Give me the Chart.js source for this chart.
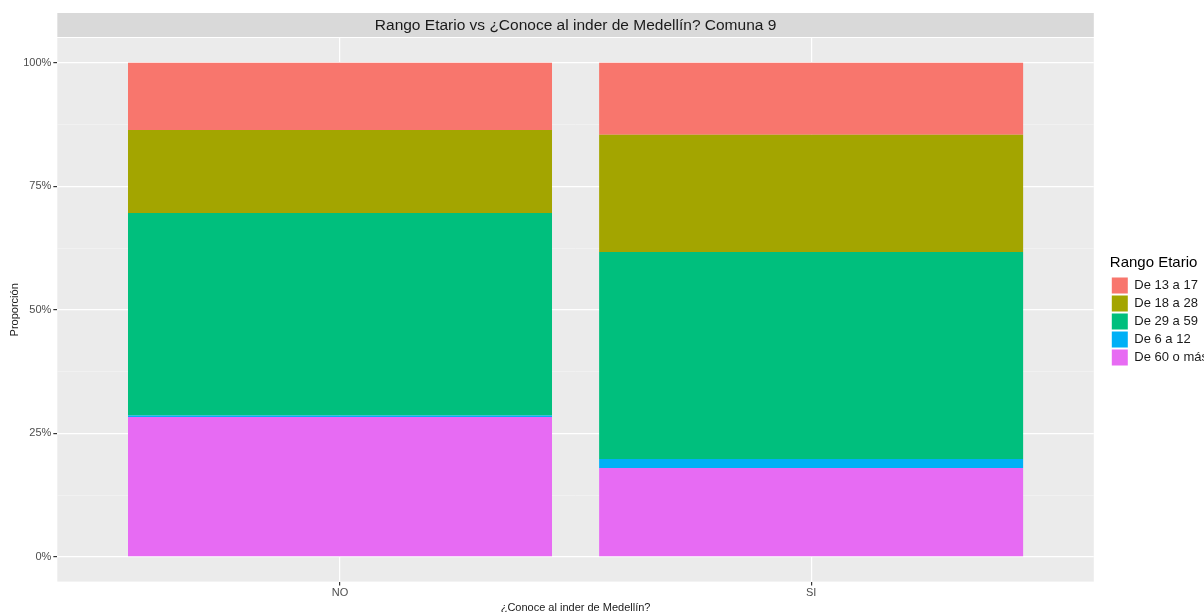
<!DOCTYPE html>
<html>
<head>
<meta charset="utf-8">
<script src="https://cdn.jsdelivr.net/npm/chart.js@4"></script>
<style>
  html, body { margin: 0; padding: 0; background: #fff; overflow: hidden; }
  #wrap { width: 1204px; height: 612px; overflow: hidden; }
</style>
</head>
<body>
<div id="wrap"><canvas id="chart" width="1218" height="615"></canvas></div>
<script>
// categories on the x axis
const categories = ['NO', 'SI'];
// age groups, bottom of the stack first
const groups = ['De 60 o más', 'De 6 a 12', 'De 29 a 59', 'De 18 a 28', 'De 13 a 17'];
const groupColors = ['#E76BF3', '#00B0F6', '#00BF7D', '#A3A500', '#F8766D'];
// proportions (%) per group, [NO, SI]
const de60 = [28.3, 18.0];
const de6 = [0.3, 1.8];
const de29 = [41.0, 41.9];
const de18 = [16.8, 23.7];
const de13 = [13.6, 14.6];
const yTicks = [0, 25, 50, 75, 100];
const yMinor = [12.5, 37.5, 62.5, 87.5];

const series = [de60, de6, de29, de18, de13];

const datasets = groups.map(function(g, i) {
    return {
        label: g,
        data: series[i].map(function(v, j) { return { x: j + 1, y: v }; }),
        backgroundColor: groupColors[i],
        borderWidth: 0,
        categoryPercentage: 1,
        barPercentage: 0.9
    };
});

const font = 'Liberation Sans, Arial, sans-serif';
const legendGap = 16;

const panelPlugin = {
    id: 'panel',
    beforeLayout: function(chart) {
        // keep a gap between the panel and the legend, like ggplot
        const lg = chart.legend;
        if (lg && !lg._gapped) {
            const fit = lg.fit;
            lg.fit = function() { fit.call(this); this.width += legendGap; };
            lg._gapped = true;
        }
    },
    afterLayout: function(chart) {
        const lg = chart.legend;
        lg.left += legendGap;
        lg.right += legendGap;
        lg.top -= 15;
        lg.bottom -= 15;
    },
    beforeDraw: function(chart) {
        const a = chart.chartArea;
        const ctx = chart.ctx;
        ctx.save();
        ctx.fillStyle = '#EBEBEB';
        ctx.fillRect(a.left, a.top, a.right - a.left, a.bottom - a.top);
        // facet strip with title
        ctx.fillStyle = '#D9D9D9';
        ctx.fillRect(a.left, 13, a.right - a.left, a.top - 14);
        ctx.fillStyle = '#1A1A1A';
        ctx.font = '15.5px ' + font;
        ctx.textAlign = 'center';
        ctx.textBaseline = 'middle';
        ctx.fillText('Rango Etario vs ¿Conoce al inder de Medellín? Comuna 9', (a.left + a.right) / 2, 26);
        ctx.restore();
    }
};

const allY = yTicks.concat(yMinor).sort(function(a, b) { return a - b; });

new Chart(document.getElementById('chart'), {
    type: 'bar',
    data: { datasets: datasets },
    options: {
        responsive: false,
        animation: false,
        devicePixelRatio: 1,
        layout: { padding: { top: 38, left: 8, right: 0, bottom: 0 } },
        scales: {
            x: {
                type: 'linear',
                stacked: true,
                offset: false,
                min: 0.4,
                max: 2.6,
                afterBuildTicks: function(scale) {
                    scale.ticks = categories.map(function(c, i) { return { value: i + 1 }; });
                },
                ticks: {
                    color: '#4D4D4D',
                    font: { size: 11, family: font },
                    padding: 1,
                    callback: function(v) { return categories[v - 1]; }
                },
                grid: { offset: false, color: '#FFFFFF', lineWidth: 1.2, tickLength: 4, tickColor: '#333333' },
                border: { display: false },
                title: {
                    display: true,
                    text: '¿Conoce al inder de Medellín?',
                    color: '#1A1A1A',
                    font: { size: 11, family: font },
                    padding: { top: 1, bottom: 0 }
                }
            },
            y: {
                stacked: true,
                min: -5,
                max: 105,
                afterBuildTicks: function(scale) {
                    scale.ticks = allY.map(function(v) { return { value: v }; });
                },
                ticks: {
                    color: '#4D4D4D',
                    font: { size: 11, family: font },
                    padding: 2,
                    callback: function(v) { return yTicks.indexOf(v) >= 0 ? v + '%' : ''; }
                },
                grid: {
                    color: function(c) { return yTicks.indexOf(c.tick.value) >= 0 ? '#FFFFFF' : '#F5F5F5'; },
                    lineWidth: function(c) { return yTicks.indexOf(c.tick.value) >= 0 ? 1.2 : 0.6; },
                    tickLength: 4,
                    tickColor: function(c) { return yTicks.indexOf(c.tick.value) >= 0 ? '#333333' : 'rgba(0,0,0,0)'; }
                },
                border: { display: false },
                title: {
                    display: true,
                    text: 'Proporción',
                    color: '#1A1A1A',
                    font: { size: 11, family: font },
                    padding: { top: 0, bottom: 0 }
                }
            }
        },
        plugins: {
            legend: {
                position: 'right',
                reverse: true,
                align: 'center',
                title: {
                    display: true,
                    text: 'Rango Etario',
                    color: '#000000',
                    font: { size: 15, family: font },
                    position: 'start',
                    padding: { top: 0, bottom: 2 }
                },
                labels: {
                    boxWidth: 16,
                    boxHeight: 16,
                    padding: 2,
                    color: '#1A1A1A',
                    font: { size: 13, family: font }
                }
            },
            tooltip: { enabled: false }
        }
    },
    plugins: [panelPlugin]
});
</script>
</body>
</html>
